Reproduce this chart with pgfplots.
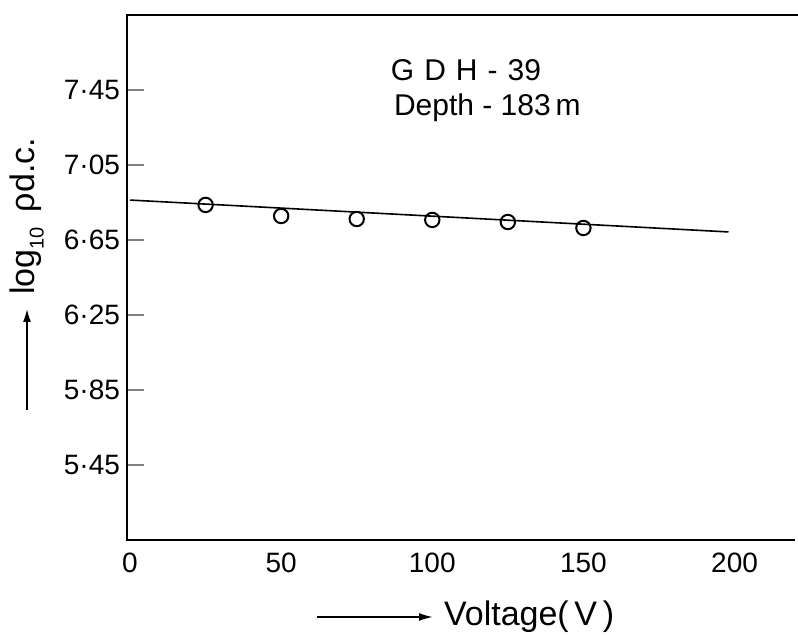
\documentclass[border=0pt]{standalone}
\usepackage{fontspec}
\setmainfont{Liberation Sans}
\usepackage{pgfplots}
\pgfplotsset{compat=1.18}
\usetikzlibrary{arrows.meta}
\begin{document}
\begin{tikzpicture}
\begin{axis}[
  scale only axis,
  width=334pt, height=262.5pt,
  xmin=-1, xmax=220, ymin=5.05, ymax=7.85,
  axis line style={draw=none},
  xtick={0,50,100,150,200},
  xticklabels={0,50,100,150,200},
  ytick={5.45,5.85,6.25,6.65,7.05,7.45},
  yticklabels={5·45,5·85,6·25,6·65,7·05,7·45},
  x tick style={draw=none},
  y tick style={line width=0.8pt},
  ytick pos=left,
  major tick length=8.5pt,
  tick align=inside,
  ticklabel style={font=\fontsize{14}{16}\selectfont},
  xticklabel style={yshift=-3pt},
  clip=false,
]
\draw[line width=1pt] (rel axis cs:1.006,1) -- (rel axis cs:0,1) -- (rel axis cs:0,0) -- (rel axis cs:1,0);
\addplot[black, line width=0.8pt, no marks] coordinates {(0,6.863) (198,6.693)};
\addplot[only marks, mark=o, mark size=3.6pt, mark options={line width=1pt, fill=white}, black]
  coordinates {(25,6.837) (50,6.778) (75,6.762) (100,6.757) (125,6.746) (150,6.714)};
\node[anchor=west, font=\fontsize{15}{17}\selectfont] at (axis cs:84,7.557) {G\,\,D\,\,H\,\,-\,\,39};
\node[anchor=west, font=\fontsize{15}{17}\selectfont] at (axis cs:85,7.354) {Depth - 183\,m};
\end{axis}
\draw[line width=0.9pt, -{Latex[length=7pt,width=4pt]}] (95pt,-38.5pt) -- (153pt,-38.5pt);
\node[anchor=west, font=\fontsize{17}{19}\selectfont] at (155pt,-38.5pt) {Voltage(\,V\,)};
\draw[line width=1.2pt, -{Latex[length=7pt,width=4pt]}] (-50pt,65pt) -- (-50pt,116pt);
\node[rotate=90, anchor=west, font=\fontsize{17}{19}\selectfont] at (-50pt,119pt) {log\raisebox{-0.5ex}{\fontsize{10}{12}\selectfont 10} \,ρd.c.};
\pgfresetboundingbox
\useasboundingbox (-63.5pt,-48pt) rectangle (335.5pt,270pt);
\end{tikzpicture}
\end{document}
